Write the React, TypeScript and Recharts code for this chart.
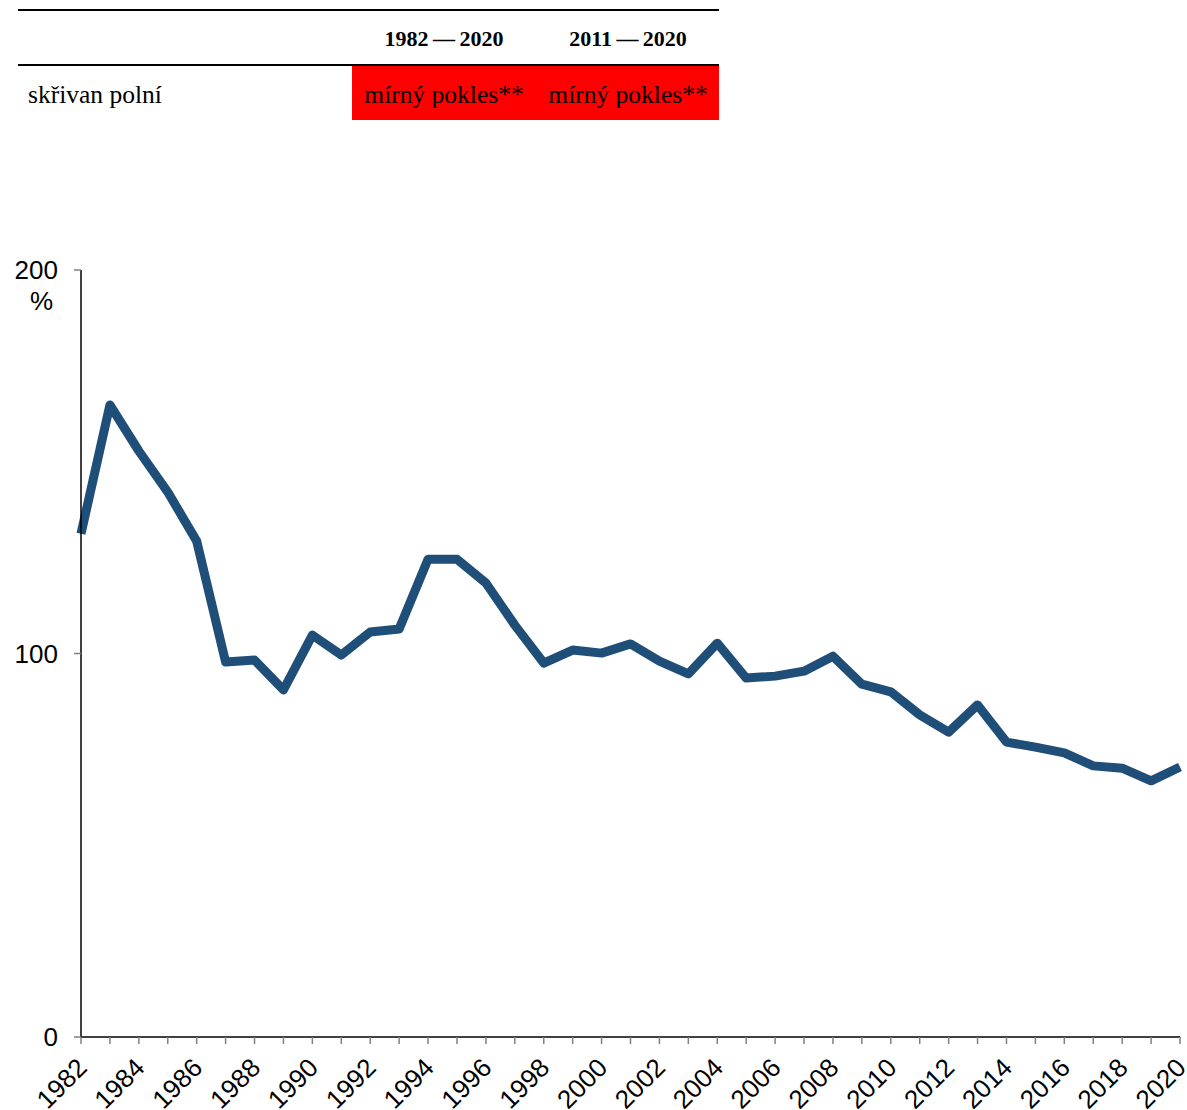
import { LineChart, Line, XAxis, YAxis } from "recharts"

const years = [
  1982, 1983, 1984, 1985, 1986, 1987, 1988, 1989, 1990, 1991, 1992, 1993, 1994,
  1995, 1996, 1997, 1998, 1999, 2000, 2001, 2002, 2003, 2004, 2005, 2006, 2007,
  2008, 2009, 2010, 2011, 2012, 2013, 2014, 2015, 2016, 2017, 2018, 2019, 2020,
]

const index = [
  131.2, 164.8, 152.8, 142.1, 129.3, 97.8, 98.3, 90.5, 104.8, 99.6, 105.6, 106.4, 124.6,
  124.6, 118.4, 107.4, 97.5, 100.9, 100.1, 102.5, 98.0, 94.7, 102.7, 93.6, 94.1, 95.4,
  99.3, 92.0, 90.0, 84.0, 79.5, 86.6, 76.9, 75.6, 74.1, 70.7, 70.1, 66.8, 70.4,
]

const yTicks = [0, 100, 200]
const periods = ["1982\u2009\u2014\u20092020", "2011\u2009\u2014\u20092020"]
const species = "skřivan polní"
const trends = ["mírný pokles**", "mírný pokles**"]

const data = years.map((year, i) => ({ year, value: index[i] }))

const serif = '"Liberation Serif", "DejaVu Serif", serif'
const sans = '"Liberation Sans", Arial, sans-serif'

function YearTick(props: any) {
  const { x, y, payload } = props
  if (payload.value % 2 !== 0) return null
  const ax = x + 1
  const ay = y + 17
  return (
    <text
      x={ax}
      y={ay}
      transform={`rotate(-45, ${ax}, ${ay})`}
      textAnchor="end"
      dominantBaseline="central"
      fontSize={26}
      fontFamily={sans}
      fill="#000"
    >
      {payload.value}
    </text>
  )
}

export default function App() {
  return (
    <div
      style={{
        position: "absolute",
        left: 0,
        top: 0,
        width: 1187,
        height: 1110,
        background: "#fff",
        overflow: "hidden",
      }}
    >
      {/* trend table */}
      <div style={{ position: "absolute", left: 18, top: 9, width: 701, height: 2, background: "#000" }} />
      <div style={{ position: "absolute", left: 18, top: 64, width: 701, height: 2, background: "#000" }} />
      <div style={{ position: "absolute", left: 352, top: 66, width: 367, height: 54, background: "#ff0000" }} />
      {periods.map((p, i) => (
        <div
          key={p}
          style={{
            position: "absolute",
            left: 352 + i * 184,
            top: 24,
            width: 184,
            textAlign: "center",
            fontFamily: serif,
            fontWeight: "bold",
            fontSize: 22,
            lineHeight: "30px",
          }}
        >
          {p}
        </div>
      ))}
      <div
        style={{
          position: "absolute",
          left: 28,
          top: 80,
          fontFamily: serif,
          fontSize: 25.5,
          lineHeight: "30px",
        }}
      >
        {species}
      </div>
      {trends.map((t, i) => (
        <div
          key={i}
          style={{
            position: "absolute",
            left: 352 + i * 184,
            top: 80,
            width: 184,
            textAlign: "center",
            fontFamily: serif,
            fontSize: 25.5,
            lineHeight: "30px",
          }}
        >
          {t}
        </div>
      ))}

      {/* unit label */}
      <div
        style={{
          position: "absolute",
          left: 30,
          top: 286,
          fontFamily: sans,
          fontSize: 26,
          lineHeight: "30px",
        }}
      >
        %
      </div>

      <div style={{ position: "absolute", left: 0, top: 0 }}>
        <LineChart width={1187} height={1110} data={data} margin={{ top: 270, right: 7, left: 0, bottom: 0 }}>
          <XAxis
            dataKey="year"
            type="number"
            domain={[1982, 2020]}
            ticks={years}
            interval={0}
            height={73}
            axisLine={{ stroke: "#000", strokeWidth: 1.5 }}
            tickLine={{ stroke: "#808080", strokeWidth: 1.5 }}
            tickSize={7}
            tick={<YearTick />}
          />
          <YAxis
            domain={[0, 200]}
            ticks={yTicks}
            width={81}
            axisLine={{ stroke: "#000", strokeWidth: 1.5 }}
            tickLine={{ stroke: "#808080", strokeWidth: 1.5 }}
            tickSize={7}
            tickMargin={16}
            tick={{ fontSize: 26, fontFamily: sans, fill: "#000" }}
          />
          <Line
            type="linear"
            dataKey="value"
            stroke="#1f4e79"
            strokeWidth={9}
            strokeLinejoin="round"
            dot={false}
            isAnimationActive={false}
          />
        </LineChart>
      </div>
    </div>
  )
}
